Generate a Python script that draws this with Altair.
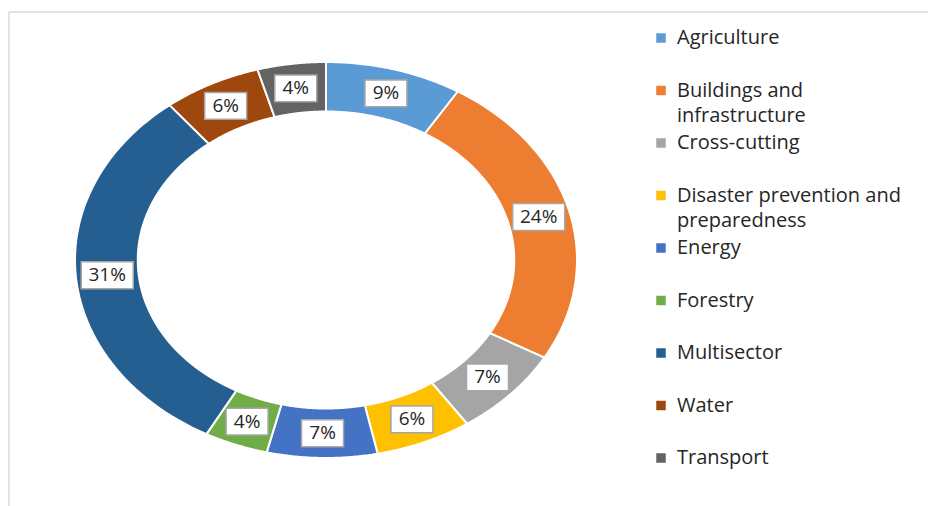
import altair as alt
import pandas as pd

# ---- data ----
categories = ["Agriculture", "Buildings and infrastructure", "Cross-cutting",
              "Disaster prevention and preparedness", "Energy", "Forestry",
              "Multisector", "Water", "Transport"]
values = [8.8, 24.4, 7.3, 6.2, 7.1, 4.1, 31.4, 6.3, 4.4]
colors = ["#5B9BD5", "#ED7D31", "#A5A5A5", "#FFC000", "#4472C4", "#70AD47",
          "#255E91", "#9E480E", "#636363"]
legend_line1 = ["Agriculture", "Buildings and", "Cross-cutting",
                "Disaster prevention and", "Energy", "Forestry",
                "Multisector", "Water", "Transport"]
legend_line2 = ["", "infrastructure", "", "preparedness", "", "", "", "", ""]

df = pd.DataFrame({"cat": categories, "value": values, "idx": list(range(len(categories)))})
leg = pd.DataFrame({"cat": categories, "l1": legend_line1, "l2": legend_line2})
one = pd.DataFrame({"a": [0]})

N = 60
INNER = 0.75
FONT = "Open Sans"
TXT = "#262626"

xs = alt.Scale(domain=[-1, 1], range=[75, 577], nice=False, zero=False)
ys = alt.Scale(domain=[-1, 1], range=[458, 62], nice=False, zero=False)
cscale = alt.Scale(domain=categories, range=colors)

base = (
    alt.Chart(df)
    .transform_window(cum="sum(value)", sort=[alt.SortField("idx", order="ascending")],
                      frame=[None, 0])
    .transform_joinaggregate(total="sum(value)")
    .transform_calculate(t0="(datum.cum - datum.value) / datum.total")
    .transform_calculate(t1="datum.cum / datum.total")
    .transform_calculate(frac="datum.value / datum.total")
)

slices = (
    base.transform_calculate(pts=f"sequence(0, {2 * N + 3})")
    .transform_flatten(["pts"])
    .transform_calculate(
        t=f"datum.pts <= {N} ? datum.t0 + (datum.t1 - datum.t0) * datum.pts / {N} : "
          f"(datum.pts <= {2 * N + 1} ? datum.t1 - (datum.t1 - datum.t0) * (datum.pts - {N + 1}) / {N} : datum.t0)"
    )
    .transform_calculate(r=f"(datum.pts <= {N} || datum.pts == {2 * N + 2}) ? 1 : {INNER}")
    .transform_calculate(x="datum.r * sin(2 * PI * datum.t)")
    .transform_calculate(y="datum.r * cos(2 * PI * datum.t)")
    .mark_line(filled=True, stroke="white", strokeWidth=2, opacity=1)
    .encode(
        x=alt.X("x:Q", scale=xs, axis=None),
        y=alt.Y("y:Q", scale=ys, axis=None),
        color=alt.Color("cat:N", scale=cscale, legend=None),
        detail="cat:N",
        order=alt.Order("pts:Q"),
    )
)

lab = (
    base.transform_calculate(tm="(datum.t0 + datum.t1) / 2")
    .transform_calculate(lx=f"{(1 + INNER) / 2} * sin(2 * PI * datum.tm)")
    .transform_calculate(ly=f"{(1 + INNER) / 2} * cos(2 * PI * datum.tm)")
    .transform_calculate(lab="format(datum.frac, '.0%')")
    .transform_calculate(
        box="length(datum.lab) > 2 ? 'M-1,-0.52L1,-0.52L1,0.52L-1,0.52Z' : 'M-1,-0.64L1,-0.64L1,0.64L-1,0.64Z'"
    )
    .transform_calculate(bsize="length(datum.lab) > 2 ? 2704 : 1764")
)

boxes = lab.mark_point(filled=True, fill="white", stroke="#A6A6A6", strokeWidth=1.5, opacity=1).encode(
    x=alt.X("lx:Q", scale=xs, axis=None),
    y=alt.Y("ly:Q", scale=ys, axis=None),
    shape=alt.Shape("box:N", scale=None, legend=None),
    size=alt.Size("bsize:Q", scale=None, legend=None),
)

texts = lab.mark_text(font=FONT, fontSize=19, color=TXT, align="center", baseline="middle").encode(
    x=alt.X("lx:Q", scale=xs, axis=None),
    y=alt.Y("ly:Q", scale=ys, axis=None),
    text="lab:N",
)

ly_scale = alt.Scale(type="point", domain=categories, range=[38, 458], padding=0)

leg_sq = alt.Chart(leg).mark_square(size=90, opacity=1).encode(
    x=alt.value(661),
    y=alt.Y("cat:N", scale=ly_scale, axis=None),
    color=alt.Color("cat:N", scale=cscale, legend=None),
)
leg_t1 = alt.Chart(leg).mark_text(font=FONT, fontSize=20, color=TXT, align="left", baseline="middle").encode(
    x=alt.value(677),
    y=alt.Y("cat:N", scale=ly_scale, axis=None),
    text="l1:N",
)
leg_t2 = alt.Chart(leg).mark_text(font=FONT, fontSize=20, color=TXT, align="left", baseline="middle", dy=25).encode(
    x=alt.value(677),
    y=alt.Y("cat:N", scale=ly_scale, axis=None),
    text="l2:N",
)

rule_top = alt.Chart(one).mark_rule(color="#D9D9D9", strokeWidth=1.5).encode(
    x=alt.value(9), x2=alt.value(928), y=alt.value(12)
)
rule_left = alt.Chart(one).mark_rule(color="#D9D9D9", strokeWidth=1.5).encode(
    x=alt.value(9), y=alt.value(12), y2=alt.value(506)
)

chart = (
    alt.layer(rule_top, rule_left, slices, boxes, texts, leg_sq, leg_t1, leg_t2)
    .resolve_scale(x="independent", y="independent")
    .properties(width=928, height=506, padding=0, autosize="none", background="white")
    .configure_view(stroke=None)
)

chart.save("out.html", embed_options={"renderer": "svg", "actions": False})
